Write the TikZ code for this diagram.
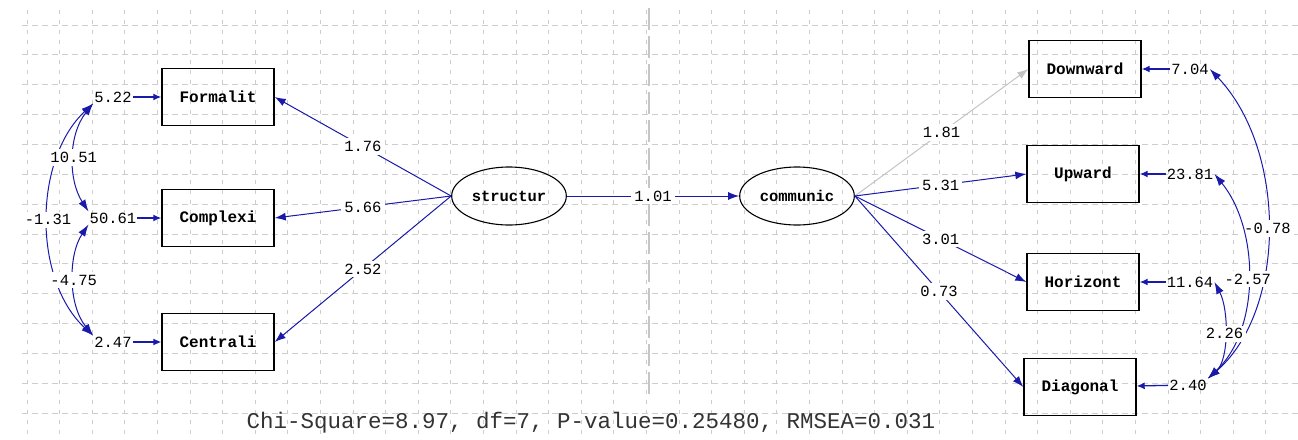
\documentclass[tikz,border=0pt]{standalone}
\usepackage{fontspec}
\setmonofont{Liberation Mono}
\usetikzlibrary{shapes.geometric,arrows.meta}
\definecolor{pathblue}{RGB}{25,25,170}
\definecolor{gridgray}{RGB}{205,205,205}
\definecolor{nsgray}{RGB}{195,195,195}
\tikzset{
    obsvar/.style={draw, line width=1.4pt, minimum width=112pt, minimum height=57pt,
        font=\ttfamily\bfseries\fontsize{16}{18}\selectfont},
    latvar/.style={ellipse, draw, line width=1.1pt, minimum width=112pt, minimum height=58pt,
        font=\ttfamily\bfseries\fontsize{15.5}{18}\selectfont},
    coef/.style={fill=white, inner sep=3pt, font=\ttfamily\fontsize{15.5}{17}\selectfont},
    errval/.style={inner sep=1pt, font=\ttfamily\fontsize{15.5}{17}\selectfont},
    loading/.style={draw=pathblue, line width=1pt, -{Latex[length=11pt,width=8pt]}},
    errpath/.style={draw=pathblue, line width=1.3pt, -{Latex[length=8pt,width=7pt]}},
    covpath/.style={draw=pathblue, line width=1pt,
        {Latex[length=12pt,width=8pt]}-{Latex[length=12pt,width=8pt]}},
}

\begin{document}
\begin{tikzpicture}[x=1pt,y=-1pt]
    \useasboundingbox (0,0) rectangle (1298,439);
    \foreach \k in {0,...,39}
        \draw[gridgray, line width=0.8pt, dash pattern=on 4pt off 6pt] ({27+32.6*\k},10) -- ({27+32.6*\k},439);
    \foreach \k in {0,...,13}
        \draw[gridgray, line width=0.8pt, dash pattern=on 6pt off 4pt] (22,{25+29.85*\k}) -- (1298,{25+29.85*\k});
    \draw[gray!45, line width=1.3pt, dash pattern=on 22pt off 6pt] (649,8) -- (649,395);

    \node[obsvar] (formalit) at (218,97) {Formalit};
    \node[obsvar] (complexi) at (218,218) {Complexi};
    \node[obsvar] (centrali) at (218,342) {Centrali};
    \node[latvar] (structur) at (509,196) {structur};
    \node[latvar] (communic) at (797,196) {communic};
    \node[obsvar] (downward) at (1085,69) {Downward};
    \node[obsvar] (upward) at (1083,174) {Upward};
    \node[obsvar] (horizont) at (1083,282) {Horizont};
    \node[obsvar] (diagonal) at (1080,387) {Diagonal};

    \node[errval] (eformalit) at (113,97) {5.22};
    \node[errval] (ecomplexi) at (113,218) {50.61};
    \node[errval] (ecentrali) at (113,342) {2.47};
    \node[errval] (edownward) at (1190,69) {7.04};
    \node[errval] (eupward) at (1190,174) {23.81};
    \node[errval] (ehorizont) at (1190,282) {11.64};
    \node[errval] (ediagonal) at (1188,385) {2.40};

    \draw[errpath] (eformalit) -- (formalit);
    \draw[errpath] (ecomplexi) -- (complexi);
    \draw[errpath] (ecentrali) -- (centrali);
    \draw[errpath] (edownward) -- (downward);
    \draw[errpath] (eupward) -- (upward);
    \draw[errpath] (ehorizont) -- (horizont);
    \draw[errpath] (ediagonal) -- (diagonal);

    \draw[loading] (structur.west) -- node[coef] {1.76} (formalit.east);
    \draw[loading] (structur.west) -- node[coef] {5.66} (complexi.east);
    \draw[loading] (structur.west) -- node[coef] {2.52} (centrali.east);
    \draw[loading] (structur.east) -- node[coef] {1.01} (communic.west);
    \draw[loading, draw=nsgray] (communic.east) -- node[coef] {1.81} (downward.west);
    \draw[loading] (communic.east) -- node[coef] {5.31} (upward.west);
    \draw[loading] (communic.east) -- node[coef] {3.01} (horizont.west);
    \draw[loading] (communic.east) -- node[coef] {0.73} (diagonal.west);

    \draw[covpath] (eformalit.south west) .. controls (33,160) and (33,280) .. node[coef] {-1.31} (ecentrali.north west);
    \draw[covpath] (eformalit.south west) .. controls (68,135) and (68,180) .. node[coef] {10.51} (ecomplexi.north west);
    \draw[covpath] (ecomplexi.south west) .. controls (68,255) and (68,305) .. node[coef] {-4.75} (ecentrali.north west);
    \draw[covpath] (edownward.east) .. controls (1287,150) and (1287,310) .. node[coef] {-0.78} (ediagonal.north east);
    \draw[covpath] (eupward.east) .. controls (1260,230) and (1260,330) .. node[coef] {-2.57} (ediagonal.north east);
    \draw[covpath] (ehorizont.east) .. controls (1229,310) and (1229,360) .. node[coef] {2.26} (ediagonal.north east);

    \node[font=\ttfamily\fontsize{22.5}{24}\selectfont, text=black!80] (fitline) at (591,423)
        {Chi-Square=8.97, df=7, P-value=0.25480, RMSEA=0.031};
\end{tikzpicture}
\end{document}
